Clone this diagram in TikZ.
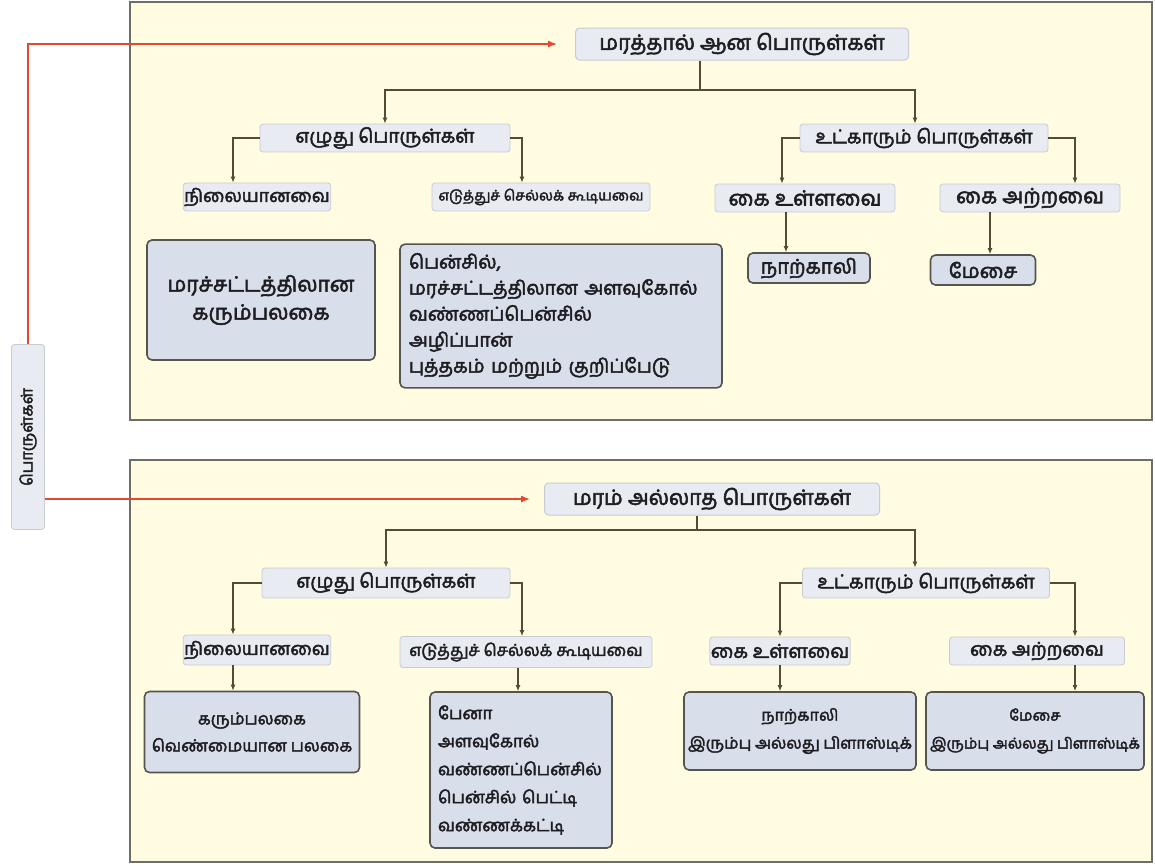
\documentclass[tikz,border=0pt]{standalone}
\usepackage{fontspec}
\newfontfamily\tamilfont[Script=Tamil,FakeBold=2.6]{Hind Madurai}
\usetikzlibrary{arrows.meta,positioning,calc}
\definecolor{panelCream}{RGB}{255,252,225}
\definecolor{panelEdge}{RGB}{110,110,105}
\definecolor{tagFill}{RGB}{232,236,242}
\definecolor{tagEdge}{RGB}{200,204,210}
\definecolor{cardFill}{RGB}{216,222,234}
\definecolor{cardEdge}{RGB}{85,85,80}
\definecolor{linkOlive}{RGB}{80,76,56}
\definecolor{cueRed}{RGB}{232,70,45}
\definecolor{inkDark}{RGB}{30,30,34}
\newcommand{\tsize}[2]{\tamilfont\fontsize{#1}{#2}\selectfont}

\begin{document}
\begin{tikzpicture}[
        x=1pt,y=-1pt,
        panel/.style={fill=panelCream,draw=panelEdge,line width=1.4pt},
        head/.style={fill=tagFill,draw=tagEdge,rounded corners=4pt,line width=1pt,text=inkDark,
          minimum height=32pt,inner sep=2pt,font=\tsize{21}{24}},
        tag/.style={fill=tagFill,draw=tagEdge,rounded corners=3pt,line width=0.8pt,text=inkDark,
          minimum height=28pt,inner sep=1pt,font=\tsize{19}{20}},
        card/.style={fill=cardFill,draw=cardEdge,rounded corners=5pt,line width=1.6pt,text=inkDark,
          inner sep=8pt,font=\tsize{19}{26}},
        link/.style={-{Latex[length=6pt,width=5pt]},draw=linkOlive,line width=1.3pt},
        cue/.style={-{Latex[length=9pt,width=7pt]},draw=cueRed,line width=1.4pt}
      ]
        \useasboundingbox (0,0) rectangle (1155,865);
        \fill[white] (0,0) rectangle (1155,865);

        % two panels
        \draw[panel] (130,2) rectangle (1152,420);
        \draw[panel] (130,460) rectangle (1152,862);

        % left label
        \node[tag,rotate=90,minimum width=185pt,minimum height=33pt,font=\tsize{16}{18}]
          (lbl) at (28,437) {பொருள்கள்};

        % top panel
        \node[head,minimum width=333pt] (r1) at (742,44) {மரத்தால் ஆன பொருள்கள்};
        \node[tag,minimum width=250pt] (wa) at (385,138) {எழுது பொருள்கள்};
        \node[tag,minimum width=248pt] (sa) at (924,138) {உட்காரும் பொருள்கள்};
        \node[tag,minimum width=145pt,font=\tsize{18}{20}] (na) at (257,197) {நிலையானவை};
        \node[tag,minimum width=218pt,font=\tsize{14.5}{16}]
          (ea) at (541,197) {எடுத்துச் செல்லக் கூடியவை};
        \node[tag,minimum width=180pt,font=\tsize{21}{22}] (ka) at (805,198) {கை உள்ளவை};
        \node[tag,minimum width=180pt,font=\tsize{21}{22}] (aa) at (1030,198) {கை அற்றவை};
        \node[card,minimum width=122pt,minimum height=30pt,inner sep=1pt,font=\tsize{20}{20}]
          (ca) at (809,268) {நாற்காலி};
        \node[card,minimum width=105pt,minimum height=30pt,inner sep=1pt,font=\tsize{20}{20}]
          (ta) at (983,270) {மேசை};
        \node[card,minimum width=228pt,minimum height=120pt,align=center,font=\tsize{21}{28}]
          (ba) at (261,300) {மரச்சட்டத்திலான\\கரும்பலகை};
        \node[card,minimum height=143pt,text width=304pt,align=left,inner sep=9pt]
          (la) at (561,316)
          {பென்சில்,\\மரச்சட்டத்திலான அளவுகோல்\\வண்ணப்பென்சில்\\அழிப்பான்\\புத்தகம் மற்றும் குறிப்பேடு};

        \coordinate (ja) at (700,90);
        \draw[linkOlive,line width=1.3pt] (r1.south -| ja) -- (ja);
        \draw[link] (ja) -| (wa.north);
        \draw[link] (ja) -| ([xshift=-9pt]sa.north);
        \draw[link] (wa.west) -| ([xshift=-24pt]na.north);
        \draw[link] (wa.east) -| ([xshift=-19pt]ea.north);
        \draw[link] (sa.west) -| ([xshift=-23pt]ka.north);
        \draw[link] (sa.east) -| ([xshift=45pt]aa.north);
        \draw[link] ([xshift=-19pt]ka.south) -- ([xshift=-19pt]ka.south |- ca.north);
        \draw[link] ([xshift=-40pt]aa.south) -- ([xshift=-40pt]aa.south |- ta.north);

        % bottom panel
        \node[head,minimum width=335pt] (r2) at (712,499) {மரம் அல்லாத பொருள்கள்};
        \node[tag,minimum width=248pt,minimum height=30pt] (wb) at (386,583) {எழுது பொருள்கள்};
        \node[tag,minimum width=247pt,minimum height=30pt] (sb) at (926,583) {உட்காரும் பொருள்கள்};
        \node[tag,minimum width=145pt,minimum height=30pt,font=\tsize{18}{20}]
          (nb) at (257,650) {நிலையானவை};
        \node[tag,minimum width=252pt,minimum height=31pt,font=\tsize{16.5}{18}]
          (eb) at (526,652) {எடுத்துச் செல்லக் கூடியவை};
        \node[tag,minimum width=140pt,font=\tsize{19}{20}] (kb) at (780,651) {கை உள்ளவை};
        \node[tag,minimum width=175pt,font=\tsize{19}{20}] (ab) at (1037,651) {கை அற்றவை};
        \node[card,minimum width=215pt,minimum height=81pt,align=center,inner sep=4pt,
          font=\tsize{16.5}{27}] (bb) at (252,732)
          {கரும்பலகை\\வெண்மையான பலகை};
        \node[card,minimum height=156pt,text width=166pt,align=left,
          font=\tsize{17}{28}] (lb) at (521,770)
          {பேனா\\அளவுகோல்\\வண்ணப்பென்சில்\\பென்சில் பெட்டி\\வண்ணக்கட்டி};
        \node[card,minimum width=230pt,minimum height=78pt,align=center,inner sep=4pt,
          font=\tsize{16}{28}] (cb) at (800,731)
          {நாற்காலி\\இரும்பு அல்லது பிளாஸ்டிக்};
        \node[card,minimum width=215pt,minimum height=78pt,align=center,inner sep=4pt,
          font=\tsize{15}{28}] (tb) at (1035,731)
          {மேசை\\இரும்பு அல்லது பிளாஸ்டிக்};

        \coordinate (jb) at (697,530);
        \draw[linkOlive,line width=1.3pt] (r2.south -| jb) -- (jb);
        \draw[link] (jb) -| (wb.north);
        \draw[link] (jb) -| ([xshift=-11pt]sb.north);
        \draw[link] (wb.west) -| ([xshift=-24pt]nb.north);
        \draw[link] (wb.east) -| ([xshift=-4pt]eb.north);
        \draw[link] (sb.west) -| (kb.north);
        \draw[link] (sb.east) -| ([xshift=38pt]ab.north);
        \draw[link] ([xshift=-24pt]nb.south) -- ([xshift=-24pt]nb.south |- bb.north);
        \draw[link] ([xshift=-8pt]eb.south) -- ([xshift=-8pt]eb.south |- lb.north);
        \draw[link] (kb.south) -- (kb.south |- cb.north);
        \draw[link] ([xshift=38pt]ab.south) -- ([xshift=38pt]ab.south |- tb.north);

        % red cues from the label
        \draw[cue,shorten >=18pt] (lbl.east) |- (r1.west);
        \draw[cue,shorten >=14pt] (lbl.south |- r2.west) -- (r2.west);
      \end{tikzpicture}
\end{document}
